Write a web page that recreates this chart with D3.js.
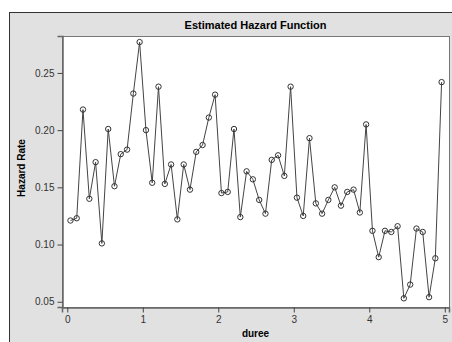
<!DOCTYPE html>
<html>
<head>
<meta charset="utf-8">
<script src="https://cdn.jsdelivr.net/npm/d3@7"></script>
<style>
  body { margin: 0; background: #fff; }
  svg { display: block; font-family: Arial, "Liberation Sans", sans-serif; }
</style>
</head>
<body>
<script>
// duree values (time midpoints)
var duree = [0.042, 0.125, 0.208, 0.292, 0.375, 0.458, 0.542, 0.625, 0.708, 0.792,
  0.875, 0.958, 1.042, 1.125, 1.208, 1.292, 1.375, 1.458, 1.542, 1.625,
  1.708, 1.792, 1.875, 1.958, 2.042, 2.125, 2.208, 2.292, 2.375, 2.458,
  2.542, 2.625, 2.708, 2.792, 2.875, 2.958, 3.042, 3.125, 3.208, 3.292,
  3.375, 3.458, 3.542, 3.625, 3.708, 3.792, 3.875, 3.958, 4.042, 4.125,
  4.208, 4.292, 4.375, 4.458, 4.542, 4.625, 4.708, 4.792, 4.875, 4.958];
// estimated hazard rate
var hazard = [0.121, 0.123, 0.218, 0.140, 0.172, 0.101, 0.201, 0.151, 0.179, 0.183,
  0.232, 0.277, 0.200, 0.154, 0.238, 0.153, 0.170, 0.122, 0.170, 0.148,
  0.181, 0.187, 0.211, 0.231, 0.145, 0.146, 0.201, 0.124, 0.164, 0.157,
  0.139, 0.127, 0.174, 0.178, 0.160, 0.238, 0.141, 0.125, 0.193, 0.136,
  0.127, 0.139, 0.150, 0.134, 0.146, 0.148, 0.128, 0.205, 0.112, 0.089,
  0.112, 0.111, 0.116, 0.053, 0.065, 0.114, 0.111, 0.054, 0.088, 0.242];
var xTicks = [0, 1, 2, 3, 4, 5];
var yTicks = [0.05, 0.10, 0.15, 0.20, 0.25];

var width = 452, height = 342;
var padLeft = 62, padRight = 449, padTop = 36, padBottom = 307;

var svg = d3.select("body").append("svg")
  .attr("width", width)
  .attr("height", height);

// grey frame
svg.append("rect")
  .attr("x", 9.5).attr("y", 12.5)
  .attr("width", width).attr("height", height)
  .attr("fill", "#e1e1e1")
  .attr("stroke", "#333");

svg.append("text")
  .attr("x", (padLeft + padRight) / 2).attr("y", 29)
  .attr("text-anchor", "middle")
  .attr("font-size", 11).attr("font-weight", "bold")
  .text("Estimated Hazard Function");

// plot area
svg.append("rect")
  .attr("x", padLeft + 0.5).attr("y", padTop + 0.5)
  .attr("width", padRight - padLeft).attr("height", padBottom - padTop)
  .attr("fill", "#fff")
  .attr("stroke", "#777");

var xScale = d3.scaleLinear()
  .domain([-0.07, 5.056])
  .range([padLeft, padRight]);

var yScale = d3.scaleLinear()
  .domain([0.0454, 0.2823])
  .range([padBottom, padTop]);

var xAxis = d3.axisBottom(xScale)
  .tickValues(xTicks)
  .tickFormat(d3.format("d"))
  .tickSize(5).tickPadding(3);

var yAxis = d3.axisLeft(yScale)
  .tickValues(yTicks)
  .tickFormat(d3.format(".2f"))
  .tickSize(5).tickPadding(3);

var gx = svg.append("g")
  .attr("transform", `translate(0, ${padBottom + 0.5})`)
  .call(xAxis);

var gy = svg.append("g")
  .attr("transform", `translate(${padLeft + 0.5}, 0)`)
  .call(yAxis);

[gx, gy].forEach(function (g) {
  g.select(".domain").attr("stroke", "#666").attr("stroke-width", 1.5);
  g.selectAll(".tick line").attr("stroke", "#444");
  g.selectAll(".tick text")
    .attr("font-size", 10)
    .attr("fill", "#333")
    .style("font-family", "Arial, 'Liberation Sans', sans-serif");
});

svg.append("text")
  .attr("x", (padLeft + padRight) / 2).attr("y", 337)
  .attr("text-anchor", "middle")
  .attr("font-size", 10).attr("font-weight", "bold")
  .text("duree");

svg.append("text")
  .attr("transform", `translate(25, 168) rotate(-90)`)
  .attr("text-anchor", "middle")
  .attr("font-size", 10).attr("font-weight", "bold")
  .text("Hazard Rate");

var pts = duree.map(function (d, i) { return {x: d, y: hazard[i]}; });

var line = d3.line()
  .x(function (d) { return xScale(d.x); })
  .y(function (d) { return yScale(d.y); });

svg.append("path")
  .datum(pts)
  .attr("d", line)
  .attr("fill", "none")
  .attr("stroke", "#444")
  .attr("stroke-width", 1);

svg.selectAll("circle.pt")
  .data(pts)
  .enter()
  .append("circle")
  .attr("class", "pt")
  .attr("cx", function (d) { return xScale(d.x); })
  .attr("cy", function (d) { return yScale(d.y); })
  .attr("r", 2.7)
  .attr("fill", "none")
  .attr("stroke", "#333")
  .attr("stroke-width", 1);
</script>
</body>
</html>
